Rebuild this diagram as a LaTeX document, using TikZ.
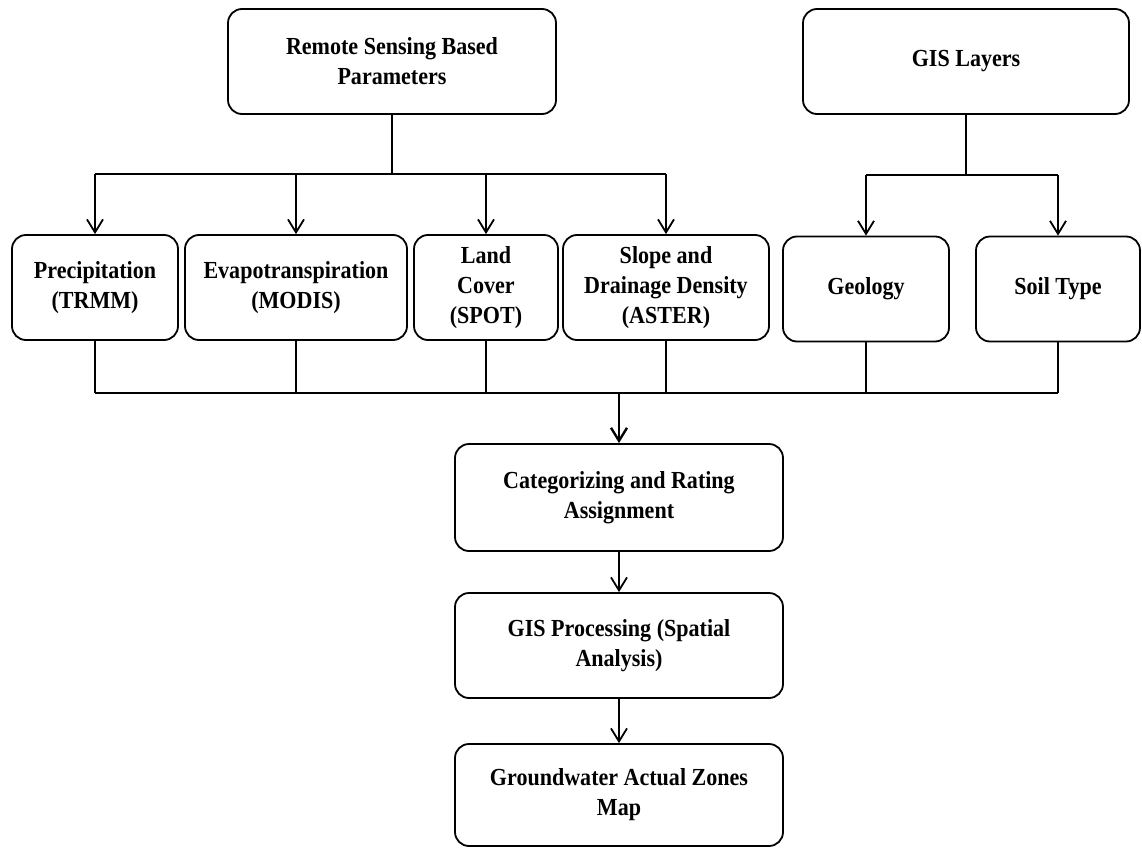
\documentclass[tikz,border=0pt]{standalone}
\usepackage{fontspec}
\setmainfont{Liberation Serif}[FakeStretch=0.9]
\usetikzlibrary{arrows.meta}

\begin{document}
\begin{tikzpicture}[x=1pt,y=-1pt,line width=1.8pt,
  >={Straight Barb[length=13pt,width=16pt]},
  blok/.style={draw,rounded corners=14pt,align=center,inner sep=0pt,
    minimum height=105pt,font=\fontsize{24.5}{30}\selectfont\bfseries}]

  \useasboundingbox (0,0) rectangle (1142,848);

  % bronnen
  \node[blok,minimum width=328pt] (rs) at (392,61.5)
    {Remote Sensing Based\\Parameters};
  \node[blok,minimum width=326pt] (gis) at (966,61.5) {GIS Layers};

  % parameters
  \node[blok,minimum width=166pt] (prec) at (95,287.5)
    {Precipitation\\(TRMM)};
  \node[blok,minimum width=222pt] (evap) at (296,287.5)
    {Evapotranspiration\\(MODIS)};
  \node[blok,minimum width=144pt] (land) at (486,287.5)
    {Land\\Cover\\(SPOT)};
  \node[blok,minimum width=206pt] (slope) at (666,287.5)
    {Slope and\\Drainage Density\\(ASTER)};
  \node[blok,minimum width=166pt] (geo) at (866,289) {Geology};
  \node[blok,minimum width=164pt] (soil) at (1058,289) {Soil Type};

  % verwerking
  \node[blok,minimum width=328pt,minimum height=107pt] (cat) at (619,497.5)
    {Categorizing and Rating\\Assignment};
  \node[blok,minimum width=328pt] (proc) at (619,645.5)
    {GIS Processing (Spatial\\Analysis)};
  \node[blok,minimum width=328pt,minimum height=102pt] (kaart) at (619,795)
    {Groundwater Actual Zones\\Map};

  % vertakkingen
  \coordinate (rsknoop) at (392,174);
  \coordinate (gisknoop) at (966,175);
  \draw (rs.south) -- (rsknoop);
  \draw (prec.north |- rsknoop) -- (slope.north |- rsknoop);
  \foreach \n in {prec,evap,land,slope}
    \draw[->] (\n.north |- rsknoop) -- (\n.north);
  \draw (gis.south) -- (gisknoop);
  \draw (geo.north |- gisknoop) -- (soil.north |- gisknoop);
  \foreach \n in {geo,soil}
    \draw[->] (\n.north |- gisknoop) -- (\n.north);

  % samenvoegen
  \coordinate (samen) at (619,393);
  \foreach \n in {prec,evap,land,slope,geo,soil}
    \draw (\n.south) -- (\n.south |- samen);
  \draw (prec.south |- samen) -- (soil.south |- samen);
  \draw[->,line width=2.4pt] (samen) -- (cat.north);

  % stappen
  \draw[->] (cat) -- (proc);
  \draw[->] (proc) -- (kaart);

\end{tikzpicture}
\end{document}
